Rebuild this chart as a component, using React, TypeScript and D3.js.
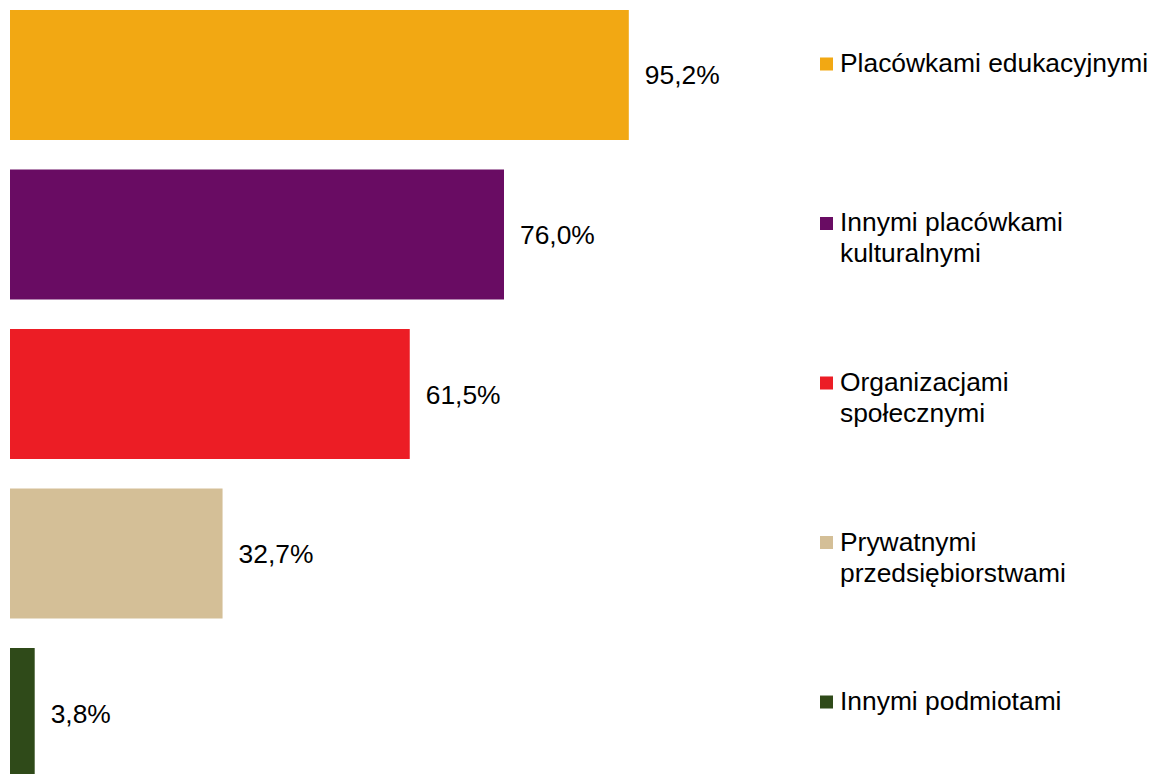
import React from "react";
import * as d3 from "d3";

const categories: string[][] = [
  ["Placówkami edukacyjnymi"],
  ["Innymi placówkami", "kulturalnymi"],
  ["Organizacjami", "społecznymi"],
  ["Prywatnymi", "przedsiębiorstwami"],
  ["Innymi podmiotami"],
];
const values: number[] = [95.2, 76.0, 61.5, 32.7, 3.8];
const colors: string[] = ["#F2A813", "#690C63", "#EC1D25", "#D4BF97", "#2F4A19"];

const W = 1157;
const H = 774;
const FONT = "'Liberation Sans', Arial, sans-serif";

export default function App() {
  const x = d3.scaleLinear().domain([0, 100]).range([10, 660]);
  const y = d3
    .scaleBand<number>()
    .domain(d3.range(values.length))
    .range([10, 778])
    .paddingInner(0.185)
    .paddingOuter(0);
  const fmt = (v: number) => v.toFixed(1).replace(".", ",") + "%";

  return (
    <svg
      width={W}
      height={H}
      style={{ position: "absolute", left: 0, top: 0, background: "#fff" }}
      fontFamily={FONT}
    >
      {values.map((v, i) => {
        const y0 = y(i)!;
        const bw = y.bandwidth();
        const cy = y0 + bw / 2;
        return (
          <g key={i}>
            <rect x={x(0)} y={y0} width={x(v) - x(0)} height={bw} fill={colors[i]} />
            <text x={x(v) + 16} y={cy + 9.5} fontSize={26.4} fill="#000">
              {fmt(v)}
            </text>
          </g>
        );
      })}
      {categories.map((lines, i) => {
        const cy = y(i)! + y.bandwidth() / 2;
        const base = cy - 3;
        return (
          <g key={"l" + i}>
            <rect x={820} y={base - 14.5} width={13} height={13} fill={colors[i]} />
            {lines.map((ln, j) => (
              <text key={j} x={840} y={base + j * 31} fontSize={26.4} fill="#000">
                {ln}
              </text>
            ))}
          </g>
        );
      })}
    </svg>
  );
}
